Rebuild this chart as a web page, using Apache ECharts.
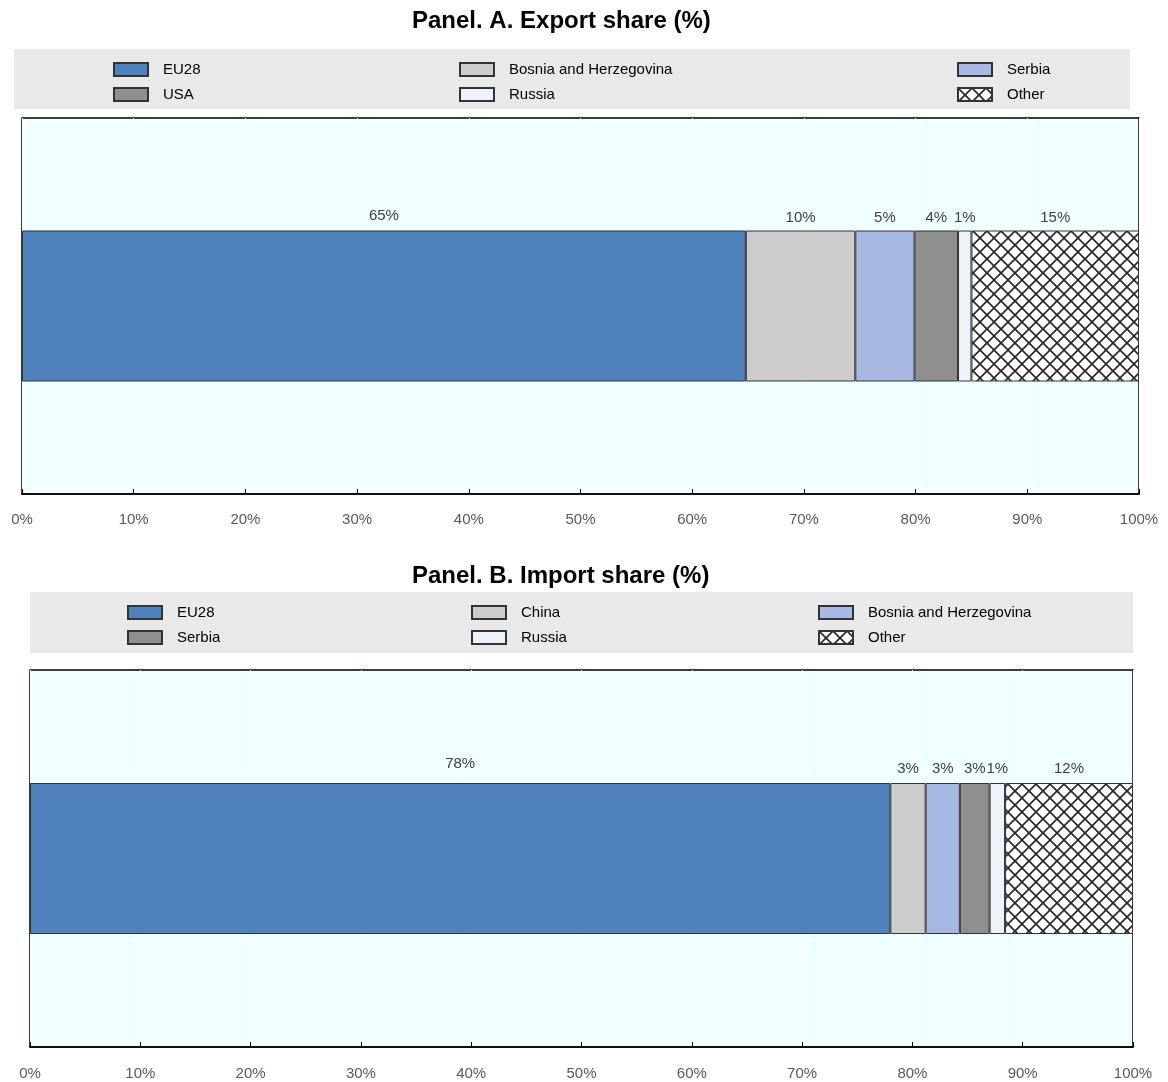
<!DOCTYPE html>
<html>
<head>
<meta charset="utf-8">
<script src="https://cdn.jsdelivr.net/npm/echarts@6/dist/echarts.min.js"></script>
<style>html,body{margin:0;padding:0;background:#fff;}#c{width:1168px;height:1082px;}</style>
</head>
<body>
<div id="c"></div>
<script>
const exportCats = ['EU28', 'Bosnia and Herzegovina', 'Serbia', 'USA', 'Russia', 'Other'];
const exportVals = [64.8, 9.8, 5.3, 3.9, 1.2, 15.0];
const importCats = ['EU28', 'China', 'Bosnia and Herzegovina', 'Serbia', 'Russia', 'Other'];
const importVals = [78.0, 3.2, 3.1, 2.7, 1.4, 11.6];
const xTickValues = [0, 10, 20, 30, 40, 50, 60, 70, 80, 90, 100];
const titleA = 'Panel. A. Export share (%)';
const titleB = 'Panel. B. Import share (%)';

// hatch pattern
const pc = document.createElement('canvas');
pc.width = 14; pc.height = 14;
const g = pc.getContext('2d');
g.fillStyle = '#ffffff'; g.fillRect(0, 0, 14, 14);
g.strokeStyle = '#2a2a2a'; g.lineWidth = 1.7;
for (const o of [-14, 0, 14]) {
  g.beginPath(); g.moveTo(o, 0); g.lineTo(o + 14, 14); g.stroke();
  g.beginPath(); g.moveTo(o + 14, 0); g.lineTo(o, 14); g.stroke();
}
const hatch = { image: pc, repeat: 'repeat' };

const colorsA = ['#4f81bd', '#cccccc', '#a7b9e3', '#8f8f8f', '#eef2fa', hatch];
const colorsB = ['#4f81bd', '#cccccc', '#a7b9e3', '#8f8f8f', '#eef2fa', hatch];

const SANS = "'Liberation Sans',Arial,sans-serif";

function makeSeries(prefix, cats, vals, colors, axisIdx, eu28Dist, otherDist) {
  return cats.map((c, i) => ({
    name: prefix + c,
    type: 'bar',
    stack: prefix,
    xAxisIndex: axisIdx,
    yAxisIndex: axisIdx,
    barWidth: 151,
    data: [vals[i]],
    itemStyle: { color: colors[i], borderColor: '#333', borderWidth: 1 },
    label: {
      show: true,
      position: 'top',
      distance: i === 0 ? eu28Dist : otherDist,
      formatter: p => Math.round(p.value) + '%',
      color: '#404040',
      fontSize: 15,
      fontFamily: SANS
    },
    emphasis: { disabled: true }
  }));
}

function legendCol(prefix, names, left, top) {
  return {
    orient: 'vertical',
    left: left,
    top: top,
    padding: 0,
    icon: 'rect',
    data: names.map(n => prefix + n),
    formatter: n => n.slice(prefix.length),
    itemWidth: 34,
    itemHeight: 13,
    itemGap: 10,
    selectedMode: false,
    textStyle: { fontSize: 15, fontFamily: SANS, color: '#000', padding: [0, 0, 0, 10] }
  };
}

function xAxisCfg(gridIndex, margin) {
  return {
    type: 'value', gridIndex: gridIndex, min: 0, max: 100, interval: 10,
    axisLine: { show: true, lineStyle: { color: '#000', width: 1.5 } },
    axisTick: { show: true, inside: true, length: 5, lineStyle: { color: '#000' } },
    splitLine: { show: true, lineStyle: { color: '#ffffff', width: 1 } },
    axisLabel: {
      margin: margin, color: '#595959', fontSize: 15, fontFamily: SANS,
      formatter: v => xTickValues.includes(v) ? v + '%' : ''
    }
  };
}
function yAxisCfg(gridIndex) {
  return {
    type: 'category', gridIndex: gridIndex, data: [''],
    axisLine: { show: false }, axisTick: { show: false }, axisLabel: { show: false },
    splitLine: { show: false }
  };
}

const option = {
  animation: false,
  backgroundColor: '#ffffff',
  title: [
    { text: titleA, left: 412, top: 9, padding: 0, textStyle: { fontSize: 24, fontWeight: 'bold', fontFamily: SANS, color: '#000' } },
    { text: titleB, left: 412, top: 564, padding: 0, textStyle: { fontSize: 24, fontWeight: 'bold', fontFamily: SANS, color: '#000' } }
  ],
  graphic: [
    { type: 'rect', left: 14, top: 49, shape: { width: 1116, height: 60 }, style: { fill: '#e9e9e9' }, z: -10 },
    { type: 'rect', left: 30, top: 592, shape: { width: 1103, height: 61 }, style: { fill: '#e9e9e9' }, z: -10 }
  ],
  legend: [
    legendCol('A:', ['EU28', 'USA'], 113, 62),
    legendCol('A:', ['Bosnia and Herzegovina', 'Russia'], 459, 62),
    legendCol('A:', ['Serbia', 'Other'], 957, 62),
    legendCol('B:', ['EU28', 'Serbia'], 127, 605),
    legendCol('B:', ['China', 'Russia'], 471, 605),
    legendCol('B:', ['Bosnia and Herzegovina', 'Other'], 818, 605)
  ],
  grid: [
    { left: 22, right: 29, top: 118, height: 376, show: true, backgroundColor: '#f0ffff', borderColor: '#000', borderWidth: 1.5 },
    { left: 30, right: 35, top: 670, height: 377, show: true, backgroundColor: '#f0ffff', borderColor: '#000', borderWidth: 1.5 }
  ],
  xAxis: [xAxisCfg(0, 18), xAxisCfg(1, 19)],
  yAxis: [yAxisCfg(0), yAxisCfg(1)],
  series: [].concat(
    makeSeries('A:', exportCats, exportVals, colorsA, 0, 7, 5),
    makeSeries('B:', importCats, importVals, colorsB, 1, 12, 7)
  )
};

const chart = echarts.init(document.getElementById('c'), null, { renderer: 'canvas' });
chart.setOption(option);
</script>
</body>
</html>
